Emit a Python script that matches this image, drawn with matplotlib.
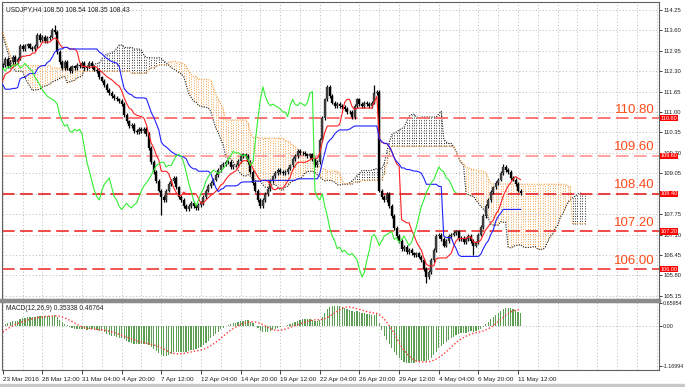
import numpy as np
import pandas as pd
import matplotlib.pyplot as plt
from matplotlib.patches import Rectangle

plt.rcParams['font.family'] = ['Liberation Sans', 'DejaVu Sans']

# USDJPY H4 closes before the first bar on screen (the indicators need them)
pre_closes = [112.90, 113.00, 113.20, 113.10, 113.30, 113.20, 113.40, 113.50, 113.30, 113.60,
              113.70, 113.50, 113.80, 113.90, 113.70, 113.80, 114.00, 113.90,
              114.10, 114.20, 114.00, 113.90, 114.05, 113.80, 113.90, 113.70, 113.80, 113.90,
              114.00, 113.85, 113.70, 113.60, 113.50, 113.60, 113.40, 113.20,
              113.00, 113.20, 113.40, 113.30, 113.50, 113.60, 113.40, 113.30, 113.50, 113.60,
              113.40, 113.50,
              113.60, 113.70, 113.80, 113.85,
              113.00, 112.40, 111.90, 111.40, 111.00, 110.75,
              110.80, 111.00, 111.30, 111.10, 111.20, 111.35, 111.40,
              111.50, 111.30, 111.45, 111.60, 111.50, 111.70,
              111.80, 111.90, 112.10, 112.20, 112.40, 112.30, 112.45]

# closes of the 210 bars on screen (23 Mar 2016 -> 11 May 2016)
closes = [112.50, 112.70, 112.45, 112.60, 112.75, 112.60, 112.70, 113.10, 113.00, 113.10,
          113.15, 113.05, 113.00, 113.10, 113.45, 113.30, 113.40, 113.25, 113.35, 113.40,
          113.60, 113.55, 112.90, 112.60, 112.40, 112.60, 112.40, 112.30, 112.45, 112.40,
          112.50, 112.45, 112.55, 112.40, 112.45, 112.55, 112.45, 112.35, 112.30, 112.10,
          112.00, 111.85, 111.70, 111.60, 111.50, 111.45, 111.40, 111.35, 111.25, 110.90,
          110.70, 110.55, 110.60, 110.40, 110.35, 110.45, 110.40, 110.45, 110.30, 109.85,
          109.40, 109.10, 108.80, 108.50, 108.30, 108.20, 108.50, 108.70, 108.80, 108.90,
          108.60, 108.30, 108.20, 108.00, 107.90, 108.00, 108.10, 108.00, 107.95, 108.05,
          108.10, 108.30, 108.50, 108.65, 108.75, 108.85, 109.00, 109.15, 109.30, 109.35,
          109.40, 109.40, 109.25, 109.30, 109.30, 109.45, 109.60, 109.65, 109.60, 109.40,
          109.10, 108.75, 108.50, 108.20, 108.00, 108.20, 108.40, 108.55, 108.80, 108.95,
          109.05, 109.15, 109.10, 109.05, 109.10, 109.20, 109.30, 109.50, 109.60, 109.75,
          109.70, 109.70, 109.65, 109.60, 109.65, 109.50, 109.30, 109.40, 110.10, 110.80,
          111.40, 111.80, 111.50, 111.30, 111.20, 111.25, 111.20, 111.15, 111.10, 111.00,
          111.00, 110.85, 111.20, 111.40, 111.25, 111.20, 111.30, 111.25, 111.20, 111.30,
          111.60, 111.65, 108.50, 108.30, 108.20, 108.40, 108.00, 107.70, 107.30, 107.05,
          106.90, 106.65, 106.70, 106.55, 106.60, 106.50, 106.45, 106.50, 106.40, 106.30,
          106.00, 105.75, 105.90, 106.30, 106.60, 107.05, 107.10, 106.95, 106.75, 106.90,
          107.05, 107.10, 107.15, 107.20, 106.95, 107.00, 106.85, 106.95, 107.05, 106.90,
          106.75, 106.85, 107.10, 107.35, 107.70, 108.00, 108.20, 108.45, 108.60, 108.75,
          108.85, 109.05, 109.25, 109.15, 109.10, 108.90, 108.85, 108.70, 108.50, 108.43]

last_ohlc = (108.50, 108.54, 108.35, 108.43)
spike_highs = {21: 113.77, 131: 111.87, 150: 111.85, 202: 109.35}
spike_lows = {64: 107.72, 171: 105.55, 190: 106.45}

levels = [110.80, 109.60, 108.40, 107.20, 106.00]
level_colors = ['#FF6A6A', '#FF9A9A', '#E83030', '#F03C3C', '#F04848']
price_ticks = [114.25, 113.60, 112.95, 112.30, 111.65, 111.00, 110.35, 109.70,
               109.05, 108.40, 107.75, 107.10, 106.45, 105.80, 105.15]
date_labels = ['23 Mar 2016', '28 Mar 12:00', '31 Mar 04:00', '4 Apr 20:00', '7 Apr 12:00',
               '12 Apr 04:00', '14 Apr 20:00', '19 Apr 12:00', '22 Apr 04:00', '26 Apr 20:00',
               '29 Apr 12:00', '4 May 04:00', '6 May 20:00', '11 May 12:00']
macd_ticks = [0.65954, 0.0, -1.16994]
macd_labels = ['0.65954', '0.00', '-1.16994']

wick = 0.06

# build bars
n_pre = len(pre_closes)
c = np.array(pre_closes + closes)
o = np.r_[c[0], c[:-1]]
h = np.maximum(o, c) + wick
l = np.minimum(o, c) - wick
for k, v in spike_highs.items():
    h[n_pre + k] = v
for k, v in spike_lows.items():
    l[n_pre + k] = v
o[-1], h[-1], l[-1], c[-1] = last_ohlc

# ichimoku (9, 26, 52) and macd (12, 26, 9)
hi, lo, cl = pd.Series(h), pd.Series(l), pd.Series(c)
tenkan = ((hi.rolling(9).max() + lo.rolling(9).min()) / 2).values
kijun = ((hi.rolling(26).max() + lo.rolling(26).min()) / 2).values
span_a = (tenkan + kijun) / 2
span_b = ((hi.rolling(52).max() + lo.rolling(52).min()) / 2).values
macd = (cl.ewm(span=12, adjust=False).mean() - cl.ewm(span=26, adjust=False).mean())
signal = macd.rolling(9).mean().values
macd = macd.values

bar = np.arange(len(c)) - n_pre
vis = bar >= 0
xv = bar[vis]

W, H = 685, 387
fig = plt.figure(figsize=(W / 100, H / 100), dpi=100)
ax = fig.add_axes([2 / W, 1 - 299 / H, 657 / W, 297 / H])
ax2 = fig.add_axes([2 / W, 1 - 370 / H, 657 / W, 68 / H], sharex=ax)
xlim = (-0.3, 264.9)

grid_kw = dict(color='#BDBDBD', lw=0.6, ls=(0, (1.5, 2.5)), zorder=0)
for gx in range(0, 265, 8):
    ax.axvline(gx, **grid_kw)
    ax2.axvline(gx, **grid_kw)
for gy in price_ticks:
    ax.axhline(gy, **grid_kw)
ax2.axhline(0, **grid_kw)

# cloud: dotted vertical strokes per bar
xs_span = bar + 26
m = (xs_span >= 0) & ~np.isnan(span_b)
sx, sa, sb = xs_span[m], span_a[m], span_b[m]
up = sa >= sb
dot = (0, (1, 1.6))
ax.vlines(sx[up], sb[up], sa[up], colors='#303030', lw=0.7, linestyles=dot, zorder=1)
ax.vlines(sx[~up], sa[~up], sb[~up], colors='#F7A349', lw=0.7, linestyles=dot, zorder=1)
ax.plot(sx, sa, color='#202020', lw=0.8, ls=(0, (1, 1.2)), zorder=2)
ax.plot(sx, sb, color='#F39A3A', lw=0.8, ls=(0, (1, 1.2)), zorder=2)

# levels
for lvl, col in zip(levels, level_colors):
    ax.axhline(lvl, color=col, lw=1.3, ls=(0, (7, 3)), zorder=2)
    ax.text(263.0, lvl + 0.08, f'{lvl:.2f}', ha='right', va='bottom',
            color='#FF4A1A', fontsize=9.5, zorder=5)
    ax.annotate(f'{lvl:.2f}', xy=(1, lvl), xycoords=('axes fraction', 'data'),
                xytext=(1.0, 0), textcoords='offset points', ha='left', va='center',
                fontsize=4.0, color='white', annotation_clip=False, zorder=6,
                bbox=dict(boxstyle='square,pad=0.12', fc='#FF0000', ec='none'))

# candles
bull = c >= o
ax.vlines(xv, l[vis], h[vis], color='black', lw=0.9, zorder=3)
bv = bull & vis
sv = ~bull & vis
ax.vlines(bar[bv], o[bv], c[bv], color='#3C3C3C', lw=1.7, zorder=3)
ax.vlines(bar[sv], c[sv], o[sv], color='black', lw=1.7, zorder=3)

# tenkan, kijun, chikou
ax.plot(xv, tenkan[vis], color='#FF2020', lw=0.8, zorder=4)
ax.plot(xv, kijun[vis], color='#2020FF', lw=0.8, zorder=4)
ch = vis & (bar >= 26)
ax.plot(bar[ch] - 26, c[ch], color='#33EE33', lw=0.8, zorder=4)

ax.set_xlim(*xlim)
ax.set_ylim(105.05, 114.50)
ax.yaxis.tick_right()
ax.set_yticks(price_ticks)
# the red level box already shows 108.40 on the scale
ax.set_yticklabels(['' if v in levels else f'{v:.2f}' for v in price_ticks])
ax.tick_params(axis='y', length=2.5, width=0.6, labelsize=4.2, pad=1.0, colors='#202020')
ax.tick_params(axis='x', length=0, labelbottom=False)
ax.text(0.006, 0.988, 'USDJPY,H4 108.50 108.54 108.35 108.43', transform=ax.transAxes,
        fontsize=4.8, va='top', ha='left', color='#202020')

# macd panel
ax2.bar(xv, macd[vis], width=0.5, color='#5C9E52', zorder=2)
ax2.plot(xv, signal[vis], color='#FF3A3A', lw=1.0, ls=(0, (1, 1.5)), zorder=3)
ax2.set_ylim(-1.285, 0.70)
ax2.yaxis.tick_right()
ax2.set_yticks(macd_ticks)
ax2.set_yticklabels(macd_labels)
ax2.tick_params(axis='y', length=2, width=0.6, labelsize=3.9, pad=0.6, colors='#202020')
ax2.set_xticks(range(0, 16 * len(date_labels), 16))
ax2.set_xticklabels(date_labels, ha='left')
ax2.tick_params(axis='x', length=3, width=0.6, labelsize=4.6, pad=2, colors='#202020')
ax2.text(0.006, 0.96, 'MACD(12,26,9) 0.35338 0.46764', transform=ax2.transAxes,
         fontsize=4.8, va='top', ha='left', color='#202020')

for a in (ax, ax2):
    for s in a.spines.values():
        s.set_color('#606060')
        s.set_linewidth(0.8)

fig.patches.append(Rectangle((0, 1 - 302 / H), 660 / W, 3 / H, transform=fig.transFigure,
                             color='#8C8C8C', zorder=10))
fig.patches.append(Rectangle((0, 0), 1, 3 / H, transform=fig.transFigure,
                             color='#C8C8C8', zorder=10))

fig.savefig('out.png', dpi=100)
